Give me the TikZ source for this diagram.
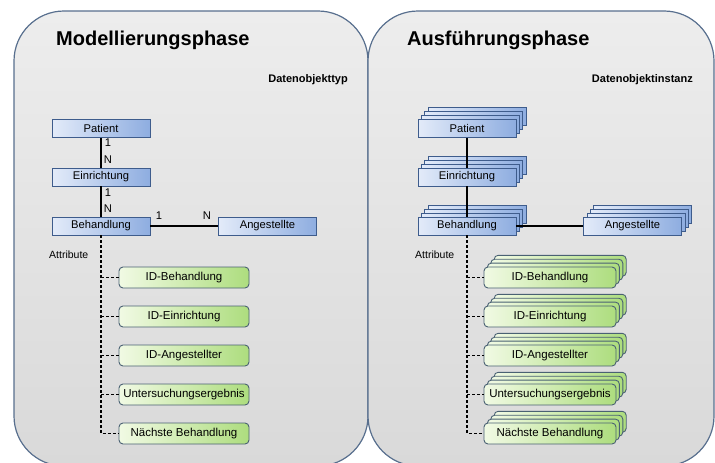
\documentclass[tikz,border=0pt]{standalone}
\usepackage{fontspec}
\setmainfont{Liberation Sans}
\definecolor{panelline}{HTML}{586F8E}
\definecolor{paneltop}{HTML}{EDEDED}
\definecolor{panelbot}{HTML}{D9D9D9}
\definecolor{blueL}{HTML}{E3EBF9}
\definecolor{blueR}{HTML}{8EADE0}
\definecolor{blueline}{HTML}{3E5C8C}
\definecolor{greenL}{HTML}{F1FAE4}
\definecolor{greenR}{HTML}{ADDD7E}
\definecolor{greenline}{HTML}{4A6173}
\tikzset{
  panel/.style={draw=panelline, line width=1.2pt, rounded corners=50pt,
    top color=paneltop, bottom color=panelbot},
  title/.style={anchor=base west, inner sep=0pt, font=\fontsize{20}{24}\selectfont\bfseries},
  kind/.style={anchor=base east, inner sep=0pt, font=\fontsize{11}{13}\selectfont\bfseries},
  small/.style={inner sep=0pt, font=\fontsize{11.2}{13}\selectfont},
  entity/.style={draw=blueline, line width=0.8pt, left color=blueL, right color=blueR,
    minimum width=98pt, minimum height=18pt, inner sep=0pt,
    font=\fontsize{11.2}{13}\selectfont},
  attr/.style={draw=greenline, line width=0.9pt, left color=greenL, right color=greenR,
    rounded corners=4pt, minimum height=21pt, inner sep=0pt,
    font=\fontsize{11.5}{13}\selectfont},
  rel/.style={line width=1.2pt},
  attrlink/.style={line width=1.1pt, dashed, dash pattern=on 3pt off 2pt},
}
% a stack of instances: three copies behind the named front box
\newcommand{\instances}[4]{%
  \foreach \k in {3,2,1}
    \node[#1, xshift=3.4*\k pt, yshift=3.9*\k pt] at #3 {};
  \node[#1] (#2) at #3 {#4};}
\begin{document}
\begin{tikzpicture}[x=1pt,y=-1pt]
\useasboundingbox (0,0) rectangle (715,463);

% the two phases
\path[panel] (14,11) rectangle (368,466);
\path[panel] (368,11) rectangle (714,466);

\node[title] (t1) at (56,45) {Modellierungsphase};
\node[title] (t2) at (407,45) {Ausführungsphase};
\node[kind] (k1) at (348,82) {Datenobjekttyp};
\node[kind] (k2) at (693,82) {Datenobjektinstanz};

% ---- modelling phase: data object types ----
\node[entity] (pat) at (101,128.5) {Patient};
\node[entity] (ein) at (101,177) {Einrichtung};
\node[entity] (beh) at (101,226) {Behandlung};
\node[entity] (ang) at (267.5,226) {Angestellte};

\draw[rel] (pat) -- (ein);
\draw[rel] (ein) -- (beh);
\draw[rel] (beh) -- (ang);

\node[small] (c1) at (108,143) {1};
\node[small] (c2) at (108,160) {N};
\node[small] (c3) at (108,193) {1};
\node[small] (c4) at (108,209) {N};
\node[small] (c5) at (159,216) {1};
\node[small] (c6) at (207,216) {N};

\node[small, anchor=west, font=\fontsize{10.5}{12}\selectfont] (at1) at (49,255) {Attribute};

\node[attr, minimum width=130pt] (a1) at (184,277.5) {ID-Behandlung};
\node[attr, minimum width=130pt] (a2) at (184,316.5) {ID-Einrichtung};
\node[attr, minimum width=130pt] (a3) at (184,355.5) {ID-Angestellter};
\node[attr, minimum width=130pt] (a4) at (184,394.5) {Untersuchungsergebnis};
\node[attr, minimum width=130pt] (a5) at (184,433.5) {Nächste Behandlung};

\draw[attrlink] (beh.south) |- (a5.west);
\foreach \a in {a1,a2,a3,a4}
  \draw[attrlink] (beh.south |- \a.west) -- (\a.west);

% ---- execution phase: data object instances ----
\instances{entity}{ipat}{(467,128.5)}{Patient}
\instances{entity}{iein}{(467,177)}{Einrichtung}
\instances{entity}{ibeh}{(467,226)}{Behandlung}
\instances{entity}{iang}{(632.5,226)}{Angestellte}

\draw[rel] (ipat) -- (iein);
\draw[rel] (iein) -- (ibeh);
\draw[rel] (ibeh) -- (iang);

\node[small, anchor=west, font=\fontsize{10.5}{12}\selectfont] (at2) at (415,255) {Attribute};

\instances{attr, minimum width=132pt}{ia1}{(550,277.5)}{ID-Behandlung}
\instances{attr, minimum width=132pt}{ia2}{(550,316.5)}{ID-Einrichtung}
\instances{attr, minimum width=132pt}{ia3}{(550,355.5)}{ID-Angestellter}
\instances{attr, minimum width=132pt}{ia4}{(550,394.5)}{Untersuchungsergebnis}
\instances{attr, minimum width=132pt}{ia5}{(550,433.5)}{Nächste Behandlung}

\draw[attrlink] (ibeh.south) |- (ia5.west);
\foreach \a in {ia1,ia2,ia3,ia4}
  \draw[attrlink] (ibeh.south |- \a.west) -- (\a.west);
\end{tikzpicture}
\end{document}
